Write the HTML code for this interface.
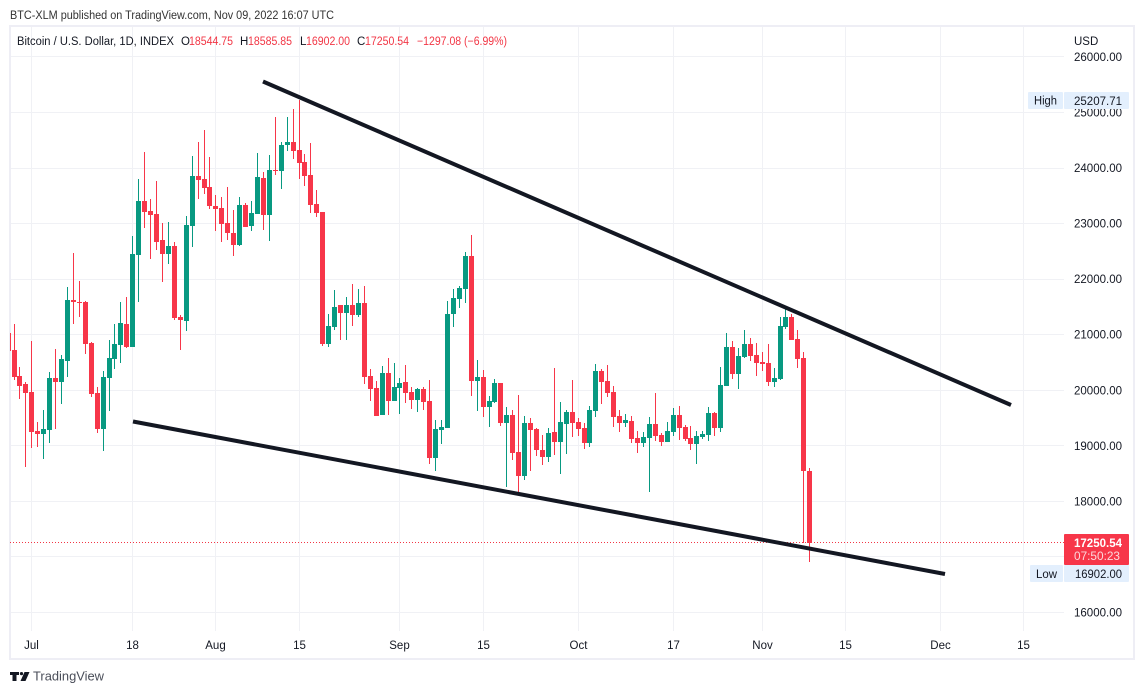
<!DOCTYPE html>
<html lang="en">
<head>
<meta charset="utf-8">
<title>BTC/USD Daily Chart</title>
<style>
html,body{margin:0;padding:0;background:#fff;width:1144px;height:694px;overflow:hidden}
svg{display:block;font-family:"Liberation Sans",sans-serif}
text{fill:#131722;font-size:11.5px}
.r{fill:#f23645}
</style>
</head>
<body>
<svg id="chart" xmlns="http://www.w3.org/2000/svg" width="1144" height="694" viewBox="0 0 1144 694">
<defs><clipPath id="plot-clip"><rect x="10" y="27" width="1054" height="604"/></clipPath></defs>
<text x="10" y="19" textLength="324" lengthAdjust="spacingAndGlyphs" style="fill:#333">BTC-XLM published on TradingView.com, Nov 09, 2022 16:07 UTC</text>
<g id="grid"></g>
<rect x="10" y="26" width="1124" height="633" fill="none" stroke="#eeeef5" stroke-width="2"/>
<g id="candles" clip-path="url(#plot-clip)"></g>
<line x1="10" y1="542.5" x2="1064" y2="542.5" stroke="#f23645" stroke-width="1" stroke-dasharray="1 2"/>
<line x1="263" y1="81.5" x2="1011" y2="405" stroke="#131722" stroke-width="4"/>
<line x1="133" y1="421.5" x2="945" y2="574" stroke="#131722" stroke-width="4"/>
<g>
<text x="17" y="45" textLength="157" lengthAdjust="spacingAndGlyphs">Bitcoin / U.S. Dollar, 1D, INDEX</text>
<text x="181" y="45">O</text>
<text class="r" x="189" y="45" textLength="44" lengthAdjust="spacingAndGlyphs">18544.75</text>
<text x="240" y="45">H</text>
<text class="r" x="248" y="45" textLength="44" lengthAdjust="spacingAndGlyphs">18585.85</text>
<text x="300" y="45">L</text>
<text class="r" x="306" y="45" textLength="44" lengthAdjust="spacingAndGlyphs">16902.00</text>
<text x="357" y="45">C</text>
<text class="r" x="365" y="45" textLength="44" lengthAdjust="spacingAndGlyphs">17250.54</text>
<text class="r" x="417" y="45" textLength="90" lengthAdjust="spacingAndGlyphs">−1297.08 (−6.99%)</text>
</g>
<text x="1074" y="45">USD</text>
<g id="price-axis"></g>
<g id="time-axis"></g>
<g>
<rect x="1028" y="92" width="35" height="17" rx="1" fill="#e3effd"/>
<rect x="1064" y="92" width="65" height="17" rx="1" fill="#e3effd"/>
<text x="1034" y="104.5" textLength="23" lengthAdjust="spacingAndGlyphs">High</text>
<text x="1074" y="105" textLength="48" lengthAdjust="spacingAndGlyphs">25207.71</text>
</g>
<g>
<rect x="1064" y="534" width="65" height="31" rx="1" fill="#f73649"/>
<text x="1074" y="547" textLength="48" lengthAdjust="spacingAndGlyphs" style="fill:#fff;font-weight:bold">17250.54</text>
<text x="1074" y="560" textLength="46" lengthAdjust="spacingAndGlyphs" style="fill:#fcd7db">07:50:23</text>
</g>
<g>
<rect x="1030" y="565" width="33" height="17" rx="1" fill="#e3effd"/>
<rect x="1064" y="565" width="65" height="17" rx="1" fill="#e3effd"/>
<text x="1036" y="578" textLength="21" lengthAdjust="spacingAndGlyphs">Low</text>
<text x="1075" y="578" textLength="47" lengthAdjust="spacingAndGlyphs">16902.00</text>
</g>
<g>
<g fill="#131722">
<path d="M10 672h9v3h-2.5v6h-4v-6H10z"/>
<circle cx="21.5" cy="673.6" r="1.6"/>
<path d="M24.5 672h5l-4 9h-5z"/>
</g>
<text x="33" y="680.5" textLength="71" lengthAdjust="spacingAndGlyphs" style="font-size:13px;fill:#4a4e59">TradingView</text>
</g>
</svg>
<script>
const opens=[21022,20716,20248,20104,19960,19258,19210,19282,20212,20146,20524,21616,21580,21580,20842,19942,19300,20218,20560,20812,21184,20776,22432,23398,23218,23164,22696,22450,22588,21310,21244,22954,23848,23794,23650,23308,23272,23002,22822,22612,23326,22954,23170,23812,23152,23956,23944,24412,24460,24316,24100,23866,23344,23200,20830,21136,21526,21388,21526,21352,21562,20248,20032,19552,20302,19804,20032,20140,19960,19816,20014,19798,18778,19276,19318,21370,21640,21820,22408,20164,20230,19696,19786,20122,19408,19546,18880,18454,19402,19294,18916,18796,19240,19066,19384,19600,19420,19312,19042,19624,20338,20158,19960,19528,19402,19438,19132,19042,19132,19384,19186,19060,19240,19546,19330,19132,19024,19150,19186,19582,19312,20068,20770,20284,20590,20824,20626,20500,20482,20140,20194,21130,21310,20914,20572,18544.75];
const highs=[21022,21184,20410,20140,20878,19420,19636,20314,20734,20626,21850,22462,21958,21598,20860,20050,20338,20896,21184,21580,21670,22768,23794,24280,23434,23758,23002,23020,22660,21346,23128,24208,24460,24676,24190,23506,23470,23650,23236,23470,23362,23398,24262,23920,24226,24910,24460,24910,25054,25207.71,24244,24442,23596,23200,21364,21796,21526,21670,21904,21814,21868,20374,20158,20428,20572,20482,20212,20446,20050,20032,20050,20176,19456,19456,21598,21814,21868,22480,22786,20536,20356,19888,20194,20122,19690,19636,19906,19528,19492,19312,19186,19312,20392,19780,19636,20176,19492,19402,19708,20464,20374,20446,20068,19636,19564,19528,19258,19240,19510,19942,19222,19420,19672,19708,19366,19348,19258,19258,19690,19600,20410,21022,20878,20752,21076,20932,20842,20680,20824,20392,21310,21472,21364,21076,20680,18585.85];
const lows=[20698,20176,19834,18616,18958,18976,18760,19048,19300,19750,20236,21190,21316,20650,19876,19228,18904,19624,20380,20488,20758,20776,21586,22918,22360,22522,21946,22270,21262,20722,21064,22576,23440,23530,23260,22864,22666,22702,22414,22594,22936,22864,23170,22882,22684,23872,23620,24304,24160,23800,23674,23188,23116,20794,20776,21082,20902,20902,21154,21316,20110,19804,19534,19552,19546,19804,19570,19768,19660,19606,19642,18670,18544,19030,19318,21136,21472,21568,19894,19624,19516,19336,19768,19354,18256,18742,18166,18382,18544,18814,18652,18706,18826,18484,18844,19150,19168,18934,18970,19510,19744,19870,19330,19240,19330,19042,18862,18970,18160,19078,18988,19060,19168,19096,19078,18916,18664,19114,19078,19168,19240,20068,20194,20014,20572,20518,20248,20338,20068,20050,20176,21094,20896,20392,17236,16902];
const closes=[20698,20236,20074,19948,19246,19210,19294,20212,20146,20554,21616,21586,21568,20830,19930,19300,20230,20572,20824,21202,20776,22444,23398,23206,23152,22666,22450,22588,21298,21262,22966,23848,23782,23638,23314,23260,22990,22828,22612,23326,22936,23182,23830,23152,23956,23944,24406,24460,24304,24088,23854,23332,23188,20830,21148,21490,21388,21526,21352,21562,20236,20020,19534,20302,19804,20050,20122,19948,19816,20014,19786,18778,19294,19330,21364,21652,21832,22408,20164,20230,19696,19798,20122,19408,19546,18868,18454,19402,19276,18922,18796,19222,19066,19420,19600,19402,19294,19042,19636,20338,20140,19942,19510,19402,19456,19114,19042,19150,19384,19168,19060,19258,19546,19312,19114,19024,19168,19204,19582,19312,20086,20770,20284,20608,20824,20608,20482,20464,20140,20212,21148,21310,20896,20554,18538,17250.54];
const priceTicks=[26000,25000,24000,23000,22000,21000,20000,19000,18000,16000];
const hiddenGridTicks=[17000];
const timeLabels=["Jul","18","Aug","15","Sep","15","Oct","17","Nov","15","Dec","15"];
const timeTickBars=[4,21,35,49,66,80,96,112,127,141,157,171];

const NS="http://www.w3.org/2000/svg";
function yScale(p){return 612-(p-16000)/18;}
function xScale(i){return 14.01+5.938*(i-1);}
function make(tag,attrs,parent){
  const el=document.createElementNS(NS,tag);
  for(const k in attrs)el.setAttribute(k,attrs[k]);
  parent.appendChild(el);
  return el;
}
const gridG=document.getElementById("grid");
const candleG=document.getElementById("candles");
const priceG=document.getElementById("price-axis");
const timeG=document.getElementById("time-axis");

priceTicks.concat(hiddenGridTicks).forEach(function(p){
  const y=Math.round(yScale(p))+0.5;
  const line=make("line",{x1:10,x2:1064,y1:y,y2:y,stroke:"#f0f1f5","stroke-width":1},gridG);
  
  
});
timeTickBars.forEach(function(b){
  const x=Math.floor(xScale(b))+0.5;
  const line=make("line",{x1:x,x2:x,y1:27,y2:631,stroke:"#f0f1f5","stroke-width":1},gridG);
  
  
});
priceTicks.forEach(function(p){
  const t=make("text",{x:1074,y:yScale(p)+4.5,textLength:48,lengthAdjust:"spacingAndGlyphs"},priceG);
  t.textContent=p.toFixed(2);
  
  
});
timeLabels.forEach(function(label,k){
  const t=make("text",{x:Math.floor(xScale(timeTickBars[k]))+0.5,y:649,"text-anchor":"middle"},timeG);
  t.textContent=label;
  
  
});
opens.forEach(function(o,i){
  const c=closes[i];
  const color=c>=o?"#089981":"#f73649";
  const px=Math.floor(xScale(i));
  const g=make("g",{},candleG);
  
  
  const yH=Math.round(yScale(highs[i])),yL=Math.round(yScale(lows[i]));
  const wick=make("rect",{x:px,y:yH,width:1,height:Math.max(1,yL-yH),fill:color,"shape-rendering":"crispEdges"},g);
  
  
  const yT=Math.round(yScale(Math.max(o,c))),yB=Math.round(yScale(Math.min(o,c)));
  const body=make("rect",{x:px-2,y:yT,width:5,height:Math.max(1,yB-yT),fill:color,"shape-rendering":"crispEdges"},g);
  
  
});
</script>
</body>
</html>
